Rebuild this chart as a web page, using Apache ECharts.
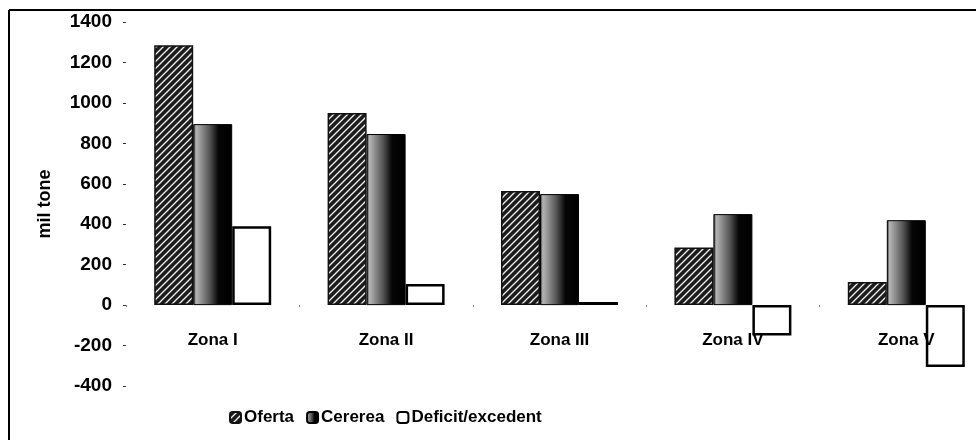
<!DOCTYPE html>
<html>
<head>
<meta charset="utf-8">
<script src="https://cdn.jsdelivr.net/npm/echarts@6/dist/echarts.min.js"></script>
<style>
* { margin: 0; padding: 0; }
html, body { background: #fff; overflow: hidden; }
#chart { width: 1000px; height: 440px; }
</style>
</head>
<body>
<div id="chart"></div>
<script>
// date (mil tone)
const categories = ['Zona I', 'Zona II', 'Zona III', 'Zona IV', 'Zona V'];
const oferta = [1285, 950, 564, 285, 114];
const cererea = [895, 846, 549, 450, 420];
const deficit = [390, 104, 15, -150, -306];
const yTicks = { min: -400, max: 1400, interval: 200 };

// hasura pentru Oferta
function hatch() {
  const c = document.createElement('canvas');
  c.width = 7; c.height = 7;
  const ctx = c.getContext('2d');
  ctx.fillStyle = '#1c1c1c';
  ctx.fillRect(0, 0, 7, 7);
  ctx.strokeStyle = '#f2f2f2';
  ctx.lineWidth = 1.3;
  ctx.beginPath();
  ctx.moveTo(0, 7); ctx.lineTo(7, 0);
  ctx.moveTo(-1, 1); ctx.lineTo(1, -1);
  ctx.moveTo(6, 8); ctx.lineTo(8, 6);
  ctx.stroke();
  return c;
}

const font = 'Liberation Sans, Arial, sans-serif';
const chart = echarts.init(document.getElementById('chart'));
chart.setOption({
  animation: false,
  textStyle: { fontFamily: font, color: '#000' },
  graphic: [
    { type: 'line', shape: { x1: 9, y1: 10, x2: 1000, y2: 10 }, style: { stroke: '#000', lineWidth: 2 } },
    { type: 'line', shape: { x1: 9, y1: 10, x2: 9, y2: 440 }, style: { stroke: '#000', lineWidth: 2 } }
  ],
  legend: {
    top: 404,
    left: 224,
    itemWidth: 11,
    itemHeight: 11,
    itemGap: 12,
    textStyle: { fontSize: 17, fontWeight: 'bold', fontFamily: font, color: '#000', padding: [0, 0, 0, -2] },
    data: ['Oferta', 'Cererea', 'Deficit/excedent']
  },
  grid: { left: 126, width: 867, top: 22, bottom: 54 },
  xAxis: {
    type: 'category',
    data: categories,
    z: 5,
    axisLine: { show: true, onZero: true, lineStyle: { color: 'rgba(0,0,0,0)' } },
    axisTick: { show: true, length: 2, lineStyle: { color: '#777' } },
    axisLabel: { fontSize: 17, fontWeight: 'bold', margin: -54, color: '#000' }
  },
  yAxis: {
    type: 'value',
    min: yTicks.min,
    max: yTicks.max,
    interval: yTicks.interval,
    name: 'mil tone',
    nameLocation: 'middle',
    nameGap: 72,
    nameTextStyle: { fontSize: 18, fontWeight: 'bold', color: '#000' },
    axisLine: { show: false },
    axisTick: { show: true, length: 3, lineStyle: { color: '#333' } },
    splitLine: { show: false },
    axisLabel: { fontSize: 19, fontWeight: 'bold', margin: 14, color: '#000', formatter: v => String(v) }
  },
  series: [
    {
      name: 'Oferta',
      type: 'bar',
      barWidth: 39,
      barGap: '0%',
      data: oferta,
      itemStyle: { color: { image: hatch(), repeat: 'repeat' }, borderColor: '#111', borderWidth: 1.5 }
    },
    {
      name: 'Cererea',
      type: 'bar',
      barWidth: 39,
      data: cererea,
      itemStyle: {
        color: new echarts.graphic.LinearGradient(0, 0, 1, 0, [
          { offset: 0, color: '#111' },
          { offset: 0.07, color: '#b5b5b5' },
          { offset: 0.42, color: '#555' },
          { offset: 0.65, color: '#050505' },
          { offset: 1, color: '#000' }
        ]),
        borderColor: '#000', borderWidth: 1
      }
    },
    {
      name: 'Deficit/excedent',
      type: 'bar',
      barWidth: 39,
      data: deficit,
      itemStyle: { color: 'rgba(255,255,255,0)', borderColor: '#000', borderWidth: 2.5 }
    }
  ]
});
</script>
</body>
</html>
